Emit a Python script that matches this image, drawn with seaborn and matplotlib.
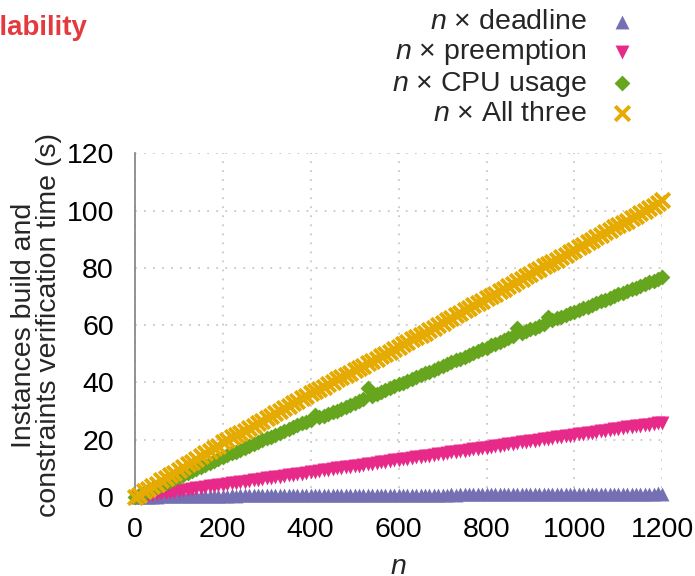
import numpy as np
import pandas as pd
import matplotlib
matplotlib.use("Agg")
import matplotlib.pyplot as plt
import seaborn as sns

# ---------------- data ----------------
n_values = [1] + list(range(10, 1201, 10))

deadline = [0.0,
    0.1, 0.1, 0.2, 0.2, 0.2, 0.3, 0.3, 0.3, 0.3, 0.4,
    0.4, 0.4, 0.4, 0.4, 0.5, 0.5, 0.5, 0.5, 0.5, 0.5,
    0.5, 0.6, 0.5, 0.6, 0.6, 0.6, 0.6, 0.6, 0.6, 0.6,
    0.6, 0.7, 0.6, 0.7, 0.7, 0.7, 0.7, 0.7, 0.7, 0.7,
    0.7, 0.7, 0.7, 0.8, 0.7, 0.8, 0.8, 0.8, 0.8, 0.8,
    0.8, 0.8, 0.8, 0.8, 0.8, 0.8, 0.9, 0.8, 0.9, 0.9,
    0.9, 0.9, 0.9, 0.9, 0.9, 0.9, 0.9, 0.9, 0.9, 0.9,
    0.9, 1.0, 0.9, 1.0, 1.0, 1.0, 1.0, 1.0, 1.0, 1.0,
    1.0, 1.0, 1.0, 1.0, 1.0, 1.0, 1.0, 1.1, 1.0, 1.1,
    1.1, 1.1, 1.1, 1.1, 1.1, 1.1, 1.1, 1.1, 1.1, 1.1,
    1.1, 1.1, 1.1, 1.2, 1.1, 1.2, 1.2, 1.2, 1.2, 1.2,
    1.2, 1.2, 1.2, 1.2, 1.2, 1.2, 1.2, 1.2, 1.3, 1.2]

preemption = [0.0,
    0.2, 0.4, 0.6, 0.9, 1.1, 1.3, 1.5, 1.7, 1.9, 2.2,
    2.4, 2.6, 2.8, 3.0, 3.2, 3.5, 3.7, 3.9, 4.1, 4.3,
    4.5, 4.8, 5.0, 5.2, 5.4, 5.6, 5.8, 6.1, 6.3, 6.5,
    6.7, 6.9, 7.1, 7.4, 7.6, 7.8, 8.0, 8.2, 8.4, 8.7,
    8.9, 9.1, 9.3, 9.5, 9.7, 10.0, 10.2, 10.4, 10.6, 10.8,
    11.0, 11.3, 11.5, 11.7, 11.9, 12.1, 12.3, 12.6, 12.8, 13.0,
    13.2, 13.4, 13.6, 13.9, 14.1, 14.3, 14.5, 14.7, 14.9, 15.2,
    15.4, 15.6, 15.8, 16.0, 16.2, 16.5, 16.7, 16.9, 17.1, 17.3,
    17.5, 17.8, 18.0, 18.2, 18.4, 18.6, 18.8, 19.1, 19.3, 19.5,
    19.7, 19.9, 20.1, 20.4, 20.6, 20.8, 21.0, 21.2, 21.4, 21.7,
    21.9, 22.1, 22.3, 22.5, 22.7, 23.0, 23.2, 23.4, 23.6, 23.8,
    24.0, 24.3, 24.5, 24.7, 24.9, 25.1, 25.3, 25.6, 25.8, 26.0]

cpu_usage = [0.1,
    0.7, 1.4, 2.1, 2.8, 3.5, 4.2, 4.9, 5.6, 6.3, 7.0,
    7.7, 8.4, 9.1, 9.8, 10.5, 11.2, 11.9, 12.6, 13.3, 14.0,
    14.6, 15.3, 15.9, 16.6, 17.2, 17.9, 18.5, 19.2, 19.8, 20.5,
    21.1, 21.8, 22.4, 23.1, 23.7, 24.4, 25.0, 25.7, 26.3, 27.0,
    28.6, 27.9, 28.3, 28.9, 29.6, 30.2, 30.9, 31.5, 32.2, 32.8,
    33.5, 34.1, 38.2, 35.4, 36.1, 36.7, 37.4, 38.0, 38.7, 39.3,
    39.9, 40.6, 41.2, 41.9, 42.5, 43.2, 43.8, 44.5, 45.1, 45.8,
    46.4, 47.0, 47.7, 48.3, 49.0, 49.6, 50.3, 50.9, 51.6, 52.2,
    52.9, 53.5, 54.2, 54.8, 55.5, 56.2, 59.0, 57.4, 57.9, 58.5,
    59.1, 59.8, 60.4, 63.0, 61.8, 62.4, 63.0, 63.5, 64.1, 64.7,
    65.3, 65.9, 66.5, 67.1, 67.7, 68.3, 68.9, 69.5, 70.1, 70.7,
    71.3, 71.9, 72.5, 73.1, 73.7, 74.3, 74.9, 75.5, 76.1, 76.7]

all_three = [0.1,
    0.9, 2.0, 2.8, 3.9, 4.7, 5.8, 6.6, 7.7, 8.5, 9.6,
    10.4, 11.5, 12.3, 13.4, 14.2, 15.3, 16.1, 17.2, 18.0, 19.1,
    19.8, 20.8, 21.5, 22.5, 23.2, 24.2, 24.9, 25.9, 26.7, 27.7,
    28.4, 29.4, 30.1, 31.1, 31.9, 32.8, 33.6, 34.6, 35.3, 36.3,
    36.9, 37.8, 38.5, 39.4, 40.2, 41.1, 41.8, 42.7, 43.4, 44.4,
    45.0, 45.9, 46.7, 47.5, 48.3, 49.2, 49.9, 50.8, 51.6, 52.5,
    53.3, 54.0, 55.0, 55.7, 56.7, 57.4, 58.4, 59.1, 60.1, 60.8,
    61.8, 62.5, 63.5, 64.2, 65.2, 65.9, 66.9, 67.6, 68.6, 69.4,
    70.3, 71.0, 72.0, 72.7, 73.7, 74.4, 75.4, 76.1, 77.1, 77.8,
    78.8, 79.5, 80.5, 81.2, 82.2, 82.9, 83.9, 84.6, 85.6, 86.3,
    87.3, 88.0, 89.0, 89.7, 90.7, 91.4, 92.4, 93.1, 94.1, 94.8,
    95.8, 96.5, 97.5, 98.2, 99.2, 99.9, 100.9, 101.6, 102.6, 103.6]

series_labels = [r"$n$ × deadline", r"$n$ × preemption",
                 r"$n$ × CPU usage", r"$n$ × All three"]
series_values = [deadline, preemption, cpu_usage, all_three]
x_ticks = [0, 200, 400, 600, 800, 1000, 1200]
y_ticks = [0, 20, 40, 60, 80, 100, 120]

# ---------------- style ----------------
sns.set_theme(style="white")
plt.rcParams["font.family"] = ["Liberation Sans", "DejaVu Sans"]
plt.rcParams["mathtext.fontset"] = "custom"
plt.rcParams["mathtext.rm"] = "Liberation Sans"
plt.rcParams["mathtext.it"] = "Liberation Sans:italic"

FS = 20.5
colors = ["#7570b3", "#e7298a", "#66a61e", "#e6ab02"]
markers = ["^", "v", "D", "x"]
sizes = [100, 100, 65, 110]
lws = [0, 0, 0, 2.8]

fig = plt.figure(figsize=(6.95, 5.76), dpi=100)
ax = fig.add_axes([0.194, 0.137, 0.759, 0.597])

for lab, vals, c, m, s, lw in zip(series_labels, series_values, colors, markers, sizes, lws):
    df = pd.DataFrame({"n": n_values, "t": vals})
    sns.scatterplot(data=df, x="n", y="t", ax=ax, marker=m, color=c, s=s,
                    linewidth=lw, edgecolor=c if lw == 0 else None, label=lab,
                    clip_on=False, zorder=3)

ax.set_xlim(0, 1200)
ax.set_ylim(0, 120)
ax.set_xticks(x_ticks)
ax.set_yticks(y_ticks)
ax.tick_params(axis="both", labelsize=FS, colors="#808080", labelcolor="black",
               direction="out", length=5, width=1.2)
ax.tick_params(axis="y", pad=10)
ax.tick_params(axis="x", pad=9)
ax.grid(True, color="#c8c8c8", linestyle=(0, (1, 4)), linewidth=1.3)
for side in ["top", "right"]:
    ax.spines[side].set_visible(False)
for side in ["left", "bottom"]:
    ax.spines[side].set_color("#808080")
    ax.spines[side].set_linewidth(1.2)

ax.set_xlabel(r"$n$", fontsize=FS, labelpad=8)
ax.set_ylabel("Instances build and\nconstraints verification time (s)",
              fontsize=FS, linespacing=0.95)
ax.yaxis.set_label_coords(-0.138, 0.5)

ax.get_legend().remove()
handles, labels = ax.get_legend_handles_labels()
fig.legend(handles, labels, loc="upper right", bbox_to_anchor=(636 / 695, 1 - 9 / 576),
           frameon=False, markerfirst=False, fontsize=FS, handlelength=1.0,
           handletextpad=0.74, labelspacing=0.08, borderpad=0, borderaxespad=0)

fig.text(-50 / 695, 1 - 35 / 576, "Scalability", color="#e23a3f", fontsize=20,
         fontweight="bold", ha="left", va="baseline")

fig.savefig("out.png", dpi=100)
